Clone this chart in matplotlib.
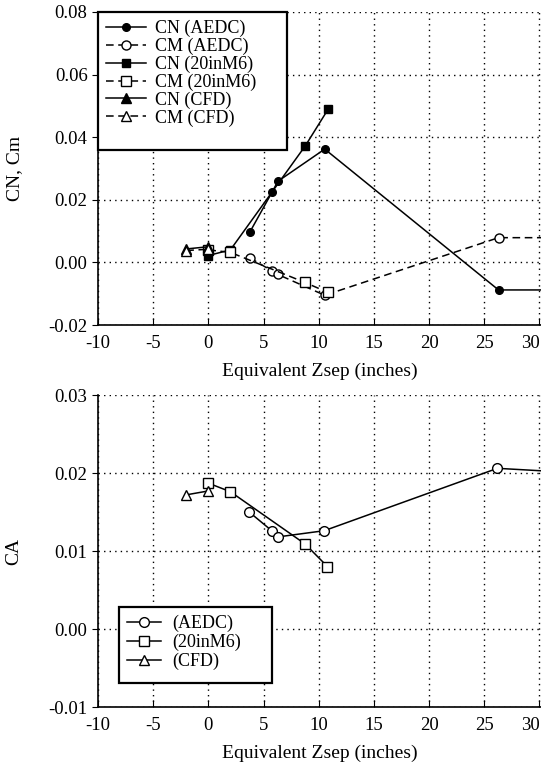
import matplotlib
matplotlib.use("Agg")
import matplotlib.pyplot as plt
from matplotlib.patches import Rectangle

plt.rcParams['font.family'] = ['Liberation Serif', 'DejaVu Serif']

# top panel: normal force and pitching moment
cn_aedc_x = [3.75, 5.8, 6.3, 10.55, 26.3, 40.0]
cn_aedc_y = [0.0096, 0.0226, 0.0259, 0.0362, -0.0088, -0.0088]
cm_aedc_x = [3.75, 5.75, 6.27, 10.55, 26.3, 40.0]
cm_aedc_y = [0.0015, -0.0027, -0.0038, -0.0105, 0.0079, 0.0079]
cn_20_x = [0.0, 2.0, 8.8, 10.85]
cn_20_y = [0.0022, 0.0040, 0.0373, 0.0489]
cm_20_x = [0.0, 2.0, 8.75, 10.85]
cm_20_y = [0.0040, 0.0032, -0.0064, -0.0096]
cn_cfd_x = [-2.0, 0.0]
cn_cfd_y = [0.0043, 0.0050]
cm_cfd_x = [-2.0, 0.0]
cm_cfd_y = [0.0038, 0.0042]

# bottom panel: axial force
ca_aedc_x = [3.7, 5.75, 6.27, 10.5, 26.2, 40.0]
ca_aedc_y = [0.0150, 0.0126, 0.0118, 0.0126, 0.0206, 0.0195]
ca_20_x = [0.0, 2.0, 8.77, 10.8]
ca_20_y = [0.0187, 0.0176, 0.0109, 0.0080]
ca_cfd_x = [-2.0, 0.0]
ca_cfd_y = [0.0172, 0.0177]

xticks = [-10, -5, 0, 5, 10, 15, 20, 25, 30]
top_yticks = [-0.02, 0.00, 0.02, 0.04, 0.06, 0.08]
bot_yticks = [-0.01, 0.00, 0.01, 0.02, 0.03]

W, H = 541, 769
fig = plt.figure(figsize=(W / 100, H / 100), dpi=100)
ax1 = fig.add_axes([98 / W, 1 - 325 / H, 443 / W, 313 / H])
ax2 = fig.add_axes([98 / W, 1 - 707 / H, 443 / W, 312 / H])

dash = (0, (5, 3))
lw = 1.1
ms = 5.5


def style(ax, yticks):
    ax.set_xlim(-10, 30.15)
    ax.set_ylim(yticks[0], yticks[-1])
    ax.set_xticks(xticks)
    ax.set_xticklabels([str(t) for t in xticks])
    ax.get_xticklabels()[-1].set_ha('right')
    ax.set_yticks(yticks)
    ax.set_yticklabels([f"{t:.2f}" for t in yticks])
    ax.grid(True, color='black', linestyle=(0, (1, 3)), linewidth=1.0)
    ax.set_axisbelow(True)
    for s in ['top', 'right']:
        ax.spines[s].set_visible(False)
    for s in ['left', 'bottom']:
        ax.spines[s].set_linewidth(1.2)
    ax.tick_params(axis='x', direction='in', length=5, labelsize=13.5, pad=7)
    ax.tick_params(axis='y', direction='out', length=4, labelsize=13.5)
    ax.set_xlabel("Equivalent Zsep (inches)", fontsize=14, labelpad=8)
    ax.yaxis.set_label_coords(-0.17, 0.5)


def legend_box(ax, x0, y0, w, h):
    ax.add_patch(Rectangle((x0, y0), w, h, transform=ax.transAxes, facecolor='white',
                           edgecolor='black', linewidth=1.6, clip_on=False, zorder=4.5))


ax1.plot(cn_aedc_x, cn_aedc_y, '-', color='black', lw=lw, marker='o', ms=ms, mfc='black', label='CN (AEDC)')
ax1.plot(cm_aedc_x, cm_aedc_y, linestyle=dash, color='black', lw=lw, marker='o', ms=ms + 1, mfc='white', label='CM (AEDC)')
ax1.plot(cn_20_x, cn_20_y, '-', color='black', lw=lw, marker='s', ms=ms, mfc='black', label='CN (20inM6)')
ax1.plot(cm_20_x, cm_20_y, linestyle=dash, color='black', lw=lw, marker='s', ms=ms + 1, mfc='white', label='CM (20inM6)')
ax1.plot(cn_cfd_x, cn_cfd_y, '-', color='black', lw=lw, marker='^', ms=ms + 1, mfc='black', label='CN (CFD)')
ax1.plot(cm_cfd_x, cm_cfd_y, linestyle=dash, color='black', lw=lw, marker='^', ms=ms + 1, mfc='white', label='CM (CFD)')
style(ax1, top_yticks)
ax1.set_ylabel("CN, Cm", fontsize=14)
legend_box(ax1, 0.0, 1 - 138 / 313, 189 / 443, 138 / 313)
ax1.legend(loc='upper left', bbox_to_anchor=(0.0, 1.0), borderaxespad=0, fontsize=13,
           handlelength=2.2, handletextpad=0.5, labelspacing=0.03, borderpad=0.45,
           frameon=False)

ax2.plot(ca_aedc_x, ca_aedc_y, '-', color='black', lw=lw, marker='o', ms=ms + 1.5, mfc='white', label='(AEDC)')
ax2.plot(ca_20_x, ca_20_y, '-', color='black', lw=lw, marker='s', ms=ms + 1, mfc='white', label='(20inM6)')
ax2.plot(ca_cfd_x, ca_cfd_y, '-', color='black', lw=lw, marker='^', ms=ms + 1.5, mfc='white', label='(CFD)')
style(ax2, bot_yticks)
ax2.set_ylabel("CA", fontsize=14)
legend_box(ax2, 21 / 443, 24 / 312, 153 / 443, 76 / 312)
ax2.legend(loc='upper left', bbox_to_anchor=(21 / 443, 100 / 312), borderaxespad=0, fontsize=13,
           handlelength=1.9, handletextpad=0.6, labelspacing=0.08, borderpad=0.45,
           frameon=False)

fig.savefig("out.png", dpi=100)
